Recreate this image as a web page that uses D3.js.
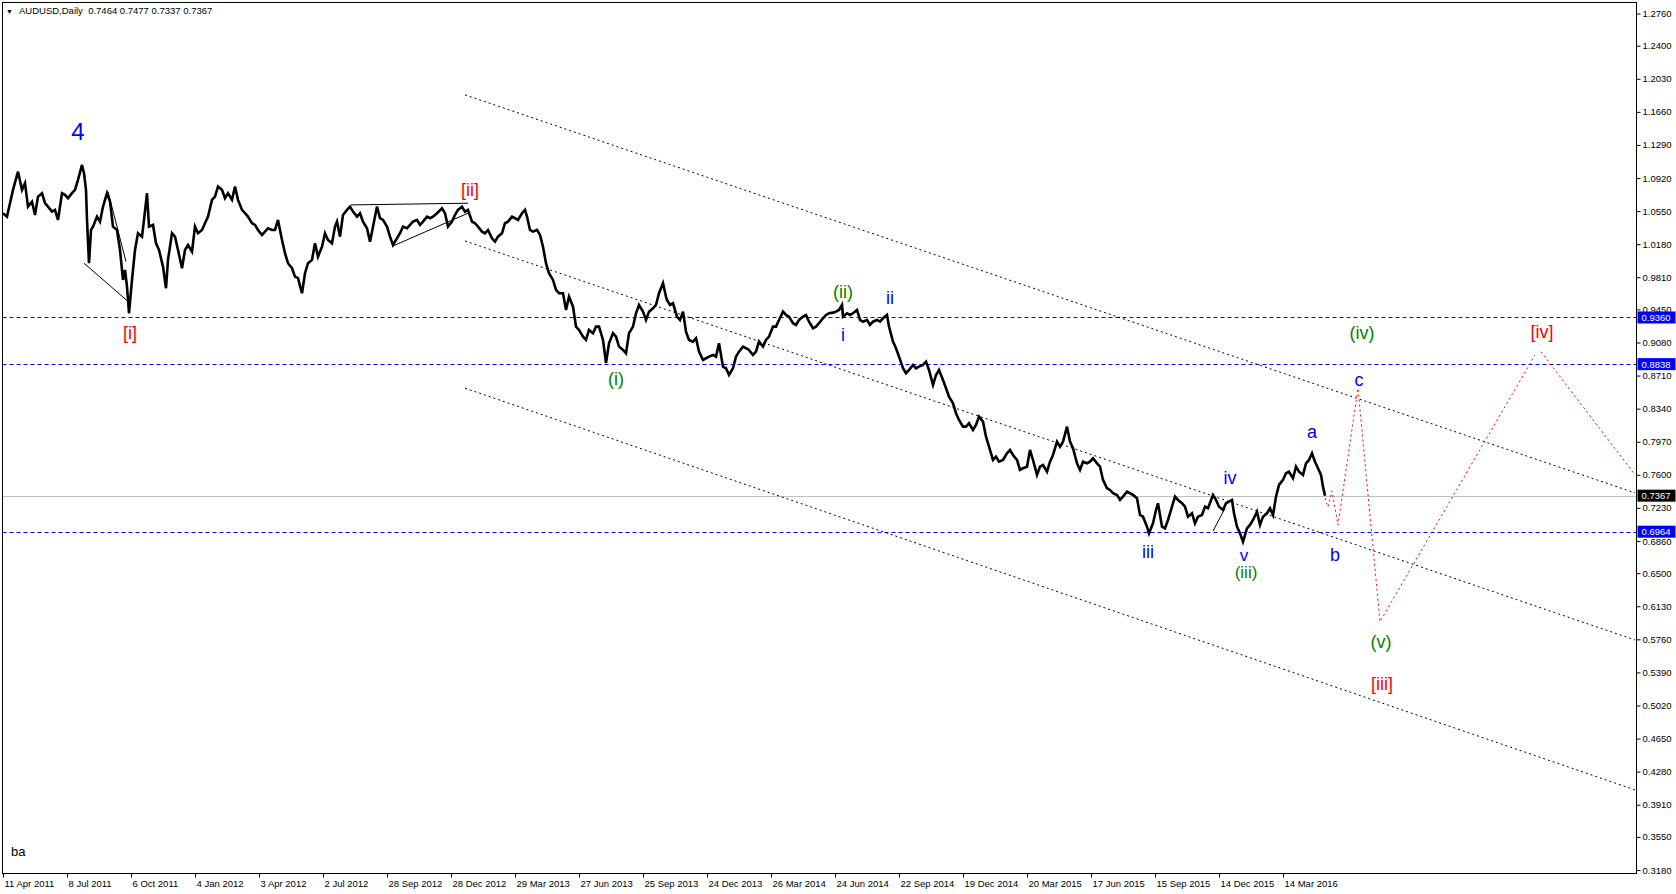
<!DOCTYPE html>
<html>
<head>
<meta charset="utf-8">
<script src="https://cdn.jsdelivr.net/npm/d3@7/dist/d3.min.js"></script>
<style>
  html, body { margin: 0; padding: 0; background: #fff; }
  svg { display: block; }
  text { font-family: "Liberation Sans", Arial, sans-serif; }
</style>
</head>
<body>
<svg id="chart" width="1676" height="894"></svg>
<script>
// ---------------- DATA ----------------
const symbolTitle = "AUDUSD,Daily  0.7464 0.7477 0.7337 0.7367";

// bar index (trading days since 11 Apr 2011)
const barIdx = [
  0,4,7,10,15,19,22,25,29,32,35,39,42,45,49,52,55,59,62,65,69,72,75,79,81,83,84,86,88,90,94,97,100,104,107,110,114,117,120,122,124,126,129,132,135,139,141,144,146,150,153,156,160,163,165,169,172,175,179,182,185,189,192,195,199,202,205,209,212,215,219,222,225,229,232,235,239,242,245,249,252,255,259,262,265,269,272,275,279,282,285,289,292,295,299,302,305,309,312,315,319,322,325,329,332,334,337,
  340,344,347,350,354,357,360,364,367,370,374,377,380,384,387,390,394,397,400,404,407,410,414,417,420,424,427,430,434,439,442,445,449,452,455,459,462,465,469,472,475,479,482,485,489,492,495,499,502,505,509,512,515,519,522,524,527,530,534,537,540,543,546,550,553,556,560,563,566,570,573,576,580,583,586,590,593,596,600,603,606,610,613,616,620,623,626,630,633,636,640,643,646,650,653,656,660,663,
  664,667,670,674,677,680,683,686,690,693,696,700,703,706,710,713,716,720,723,726,730,733,736,740,743,746,750,753,756,760,763,766,770,773,776,780,783,786,790,793,796,800,803,806,810,813,816,820,823,826,830,833,836,839,840,844,847,850,854,857,860,864,867,870,874,877,880,884,886,890,893,896,900,903,906,910,913,916,920,923,926,930,933,936,940,943,946,950,953,956,960,963,966,970,973,976,980,983,986,990,993,996,
  1000,1004,1007,1010,1014,1017,1020,1024,1027,1030,1034,1037,1040,1044,1047,1050,1054,1057,1060,1064,1067,1070,1074,1077,1080,1084,1087,1090,1094,1097,1100,1104,1107,1110,1114,1117,1120,1124,1127,1130,1134,1137,1140,1144,1146,1150,1153,1155,1159,1162,1165,1169,1172,1175,1179,1182,1185,1189,1192,1195,1199,1202,1205,1210,1213,1216,1220,1223,1226,1229,1231,1234,1237,1240,1244,1247,1250,1254,1257,1260,1264,1267,1270,1273,1276,1280,1283,1286,1290,1293,1296,1300,1303,1306,1309,1312,1315,1318,1320,1322
];
const closes = [
  1.0526,1.0488,1.0638,1.0787,1.0991,1.0787,1.0862,1.0600,1.0656,1.0507,1.0712,1.0750,1.0638,1.0600,1.0544,1.0563,1.0451,1.0750,1.0731,1.0694,1.0750,1.0787,1.0899,1.1066,1.0973,1.0787,1.0451,0.9967,1.0339,1.0376,1.0488,1.0432,1.0600,1.0750,1.0656,1.0376,1.0339,1.0115,0.9780,0.9892,0.9705,0.9407,0.9780,1.0115,1.0302,1.0264,1.0451,1.0750,1.0376,1.0395,1.0190,1.0115,0.9929,0.9687,1.0004,1.0302,1.0264,1.0115,0.9911,1.0115,1.0171,1.0096,1.0376,1.0302,1.0339,1.0414,1.0488,1.0675,1.0712,1.0824,1.0787,1.0694,1.0750,1.0675,1.0824,1.0675,1.0563,1.0526,1.0488,1.0414,1.0395,1.0339,1.0283,1.0320,1.0358,1.0339,1.0339,1.0451,1.0227,1.0079,0.9967,0.9911,0.9817,0.9799,0.9631,0.9855,0.9967,1.0004,1.0190,1.0041,1.0152,1.0302,1.0227,1.0190,1.0376,1.0432,1.0264,
  1.0507,1.0563,1.0600,1.0544,1.0488,1.0526,1.0432,1.0358,1.0208,1.0376,1.0600,1.0470,1.0451,1.0376,1.0264,1.0171,1.0246,1.0302,1.0376,1.0358,1.0395,1.0432,1.0451,1.0395,1.0432,1.0488,1.0470,1.0488,1.0526,1.0582,1.0526,1.0376,1.0432,1.0507,1.0563,1.0600,1.0544,1.0563,1.0432,1.0414,1.0376,1.0320,1.0302,1.0339,1.0246,1.0208,1.0264,1.0302,1.0414,1.0432,1.0488,1.0470,1.0451,1.0526,1.0563,1.0488,1.0339,1.0320,1.0339,1.0283,1.0152,0.9967,0.9855,0.9780,0.9668,0.9631,0.9631,0.9444,0.9593,0.9481,0.9258,0.9221,0.9146,0.9109,0.9221,0.9184,0.9258,0.9258,0.9109,0.8851,0.9072,0.9184,0.9146,0.9034,0.8997,0.8960,0.9184,0.9258,0.9407,0.9500,0.9425,0.9332,0.9425,0.9463,0.9500,0.9631,0.9743,0.9593,
  0.9556,0.9500,0.9519,0.9369,0.9332,0.9425,0.9202,0.9109,0.9090,0.9128,0.8978,0.8885,0.8904,0.8922,0.8941,0.8922,0.9072,0.8810,0.8792,0.8717,0.8792,0.8922,0.8978,0.9034,0.9016,0.8997,0.8941,0.8978,0.9090,0.9034,0.9109,0.9146,0.9258,0.9258,0.9332,0.9425,0.9388,0.9369,0.9296,0.9277,0.9332,0.9369,0.9388,0.9313,0.9240,0.9258,0.9296,0.9351,0.9388,0.9407,0.9414,0.9425,0.9444,0.9500,0.9369,0.9407,0.9388,0.9407,0.9444,0.9332,0.9313,0.9332,0.9277,0.9313,0.9332,0.9313,0.9351,0.9388,0.9258,0.9090,0.9016,0.8922,0.8792,0.8736,0.8773,0.8829,0.8792,0.8810,0.8829,0.8866,0.8773,0.8605,0.8717,0.8773,0.8661,0.8568,0.8474,0.8401,0.8289,0.8214,0.8139,0.8139,0.8177,0.8102,0.8158,0.8251,0.8195,0.8027,0.7915,0.7766,0.7803,0.7747,
  0.7766,0.7841,0.7878,0.7822,0.7766,0.7655,0.7673,0.7691,0.7878,0.7766,0.7599,0.7691,0.7710,0.7635,0.7747,0.7822,0.7971,0.7915,0.7971,0.8139,0.7971,0.7897,0.7729,0.7655,0.7747,0.7729,0.7747,0.7785,0.7729,0.7691,0.7543,0.7450,0.7431,0.7394,0.7375,0.7319,0.7356,0.7412,0.7394,0.7375,0.7338,0.7151,0.7132,0.7020,0.6946,0.7058,0.7207,0.7282,0.7020,0.7002,0.7095,0.7244,0.7356,0.7319,0.7282,0.7244,0.7132,0.7170,0.7058,0.7132,0.7151,0.7244,0.7226,0.7375,0.7319,0.7244,0.7207,0.7282,0.7300,0.7319,0.7170,0.7020,0.6946,0.6852,0.7002,0.7039,0.7095,0.7188,0.7039,0.7132,0.7170,0.7226,0.7151,0.7356,0.7487,0.7543,0.7618,0.7635,0.7562,0.7691,0.7635,0.7599,0.7729,0.7766,0.7841,0.7747,0.7673,0.7599,0.7468,0.7367
];

// time-axis labels (one every 64 bars)
const dateLabels = ["11 Apr 2011","8 Jul 2011","6 Oct 2011","4 Jan 2012","3 Apr 2012","2 Jul 2012","28 Sep 2012","28 Dec 2012","29 Mar 2013","27 Jun 2013","25 Sep 2013","24 Dec 2013","26 Mar 2014","24 Jun 2014","22 Sep 2014","19 Dec 2014","20 Mar 2015","17 Jun 2015","15 Sep 2015","14 Dec 2015","14 Mar 2016"];
const barsPerLabel = 64;

// price axis ticks
const priceTicks = [1.2760,1.2400,1.2030,1.1660,1.1290,1.0920,1.0550,1.0180,0.9810,0.9450,0.9080,0.8710,0.8340,0.7970,0.7600,0.7230,0.6860,0.6500,0.6130,0.5760,0.5390,0.5020,0.4650,0.4280,0.3910,0.3550,0.3180];

// horizontal levels
const levels = [0.9360, 0.8838, 0.6964];
const bidPrice = 0.7367;

// channel trendlines [bar1, price1, bar2, price2]
const channelLines = [
  [462, 1.1850, 1632, 0.7398],
  [462, 1.0216, 1632, 0.5753],
  [462, 0.8569, 1632, 0.4076]
];
// thin pattern trendlines
const patternLines = [
  [81, 0.9967, 126, 0.9530],
  [105, 1.0768, 123, 0.9985],
  [348, 1.0619, 465, 1.0638],
  [390, 1.0160, 465, 1.0526],
  [1210, 0.6972, 1222, 0.7226]
];
// projected path (red dotted)
const projBars1 = [1322, 1325, 1329, 1335, 1355, 1377, 1532];
const projPrices1 = [0.7341, 0.7241, 0.7420, 0.7039, 0.8568, 0.5958, 0.8941];
const projBars2 = [1538, 1632];
const projPrices2 = [0.8978, 0.7599];

// wave labels: [text, bar, price, colour-key, size]
const waveLabels = [
  ["4", 75, 1.1440, "blue", 24],
  ["[i]", 127, 0.9190, "red", 18],
  ["[ii]", 467, 1.0786, "red", 18],
  ["(i)", 613, 0.8680, "green", 18],
  ["(ii)", 840, 0.9648, "green", 18],
  ["ii", 887, 0.9586, "blue", 18],
  ["i", 840, 0.9164, "blue", 18],
  ["iii", 1145, 0.6740, "blue", 18],
  ["iv", 1227, 0.7572, "blue", 18],
  ["v", 1241, 0.6700, "blue", 17],
  ["(iii)", 1243, 0.6518, "green", 17],
  ["a", 1309, 0.8082, "blue", 18],
  ["b", 1332, 0.6703, "blue", 18],
  ["c", 1356, 0.8661, "blue", 18],
  ["(iv)", 1359, 0.9190, "green", 18],
  ["(v)", 1378, 0.5734, "green", 18],
  ["[iii]", 1379, 0.5260, "red", 18],
  ["[iv]", 1539, 0.9201, "red", 18]
];
const colours = { blue: "#0000ff", red: "#ff0000", green: "#008000" };

// ---------------- DRAW ----------------
const W = 1676, H = 894;
const plotLeft = 2.5, plotRight = 1636.5, plotTop = 2.5, plotBottom = 873.5;
const svg = d3.select("#chart");

const x = d3.scaleLinear().domain([0, 1633]).range([3, 1636]);
const y = d3.scaleLinear().domain([0.318, 1.276]).range([870, 13.5]);

svg.append("rect").attr("x", 0).attr("y", 0).attr("width", W).attr("height", H).attr("fill", "#fff");

svg.append("clipPath").attr("id", "plotclip")
  .append("rect").attr("x", plotLeft).attr("y", plotTop)
  .attr("width", plotRight - plotLeft).attr("height", plotBottom - plotTop);

const plot = svg.append("g").attr("clip-path", "url(#plotclip)");

// bid line
plot.append("line")
  .attr("x1", plotLeft).attr("x2", plotRight)
  .attr("y1", Math.round(y(bidPrice)) + 0.5).attr("y2", Math.round(y(bidPrice)) + 0.5)
  .attr("stroke", "#c0c0c0").attr("stroke-width", 1);

// horizontal levels
plot.selectAll(".lvl").data(levels).enter().append("line")
  .attr("x1", plotLeft).attr("x2", plotRight)
  .attr("y1", d => Math.round(y(d)) + 0.5).attr("y2", d => Math.round(y(d)) + 0.5)
  .attr("stroke", "#0000ff").attr("stroke-width", 1).attr("stroke-dasharray", "4,3");

// channels
plot.selectAll(".ch").data(channelLines).enter().append("line")
  .attr("x1", d => x(d[0])).attr("y1", d => y(d[1]))
  .attr("x2", d => x(d[2])).attr("y2", d => y(d[3]))
  .attr("stroke", "#000").attr("stroke-width", 1).attr("stroke-dasharray", "2,3");

// pattern lines
plot.selectAll(".pl").data(patternLines).enter().append("line")
  .attr("x1", d => x(d[0])).attr("y1", d => y(d[1]))
  .attr("x2", d => x(d[2])).attr("y2", d => y(d[3]))
  .attr("stroke", "#000").attr("stroke-width", 1);

// price line
const priceData = barIdx.map((b, i) => [b, closes[i]]);
const line = d3.line().x(d => x(d[0])).y(d => y(d[1]));
plot.append("path").datum(priceData)
  .attr("d", line).attr("fill", "none")
  .attr("stroke", "#000").attr("stroke-width", 2.6).attr("stroke-linejoin", "miter");

// projection
const proj1 = projBars1.map((b, i) => [b, projPrices1[i]]);
const proj2 = projBars2.map((b, i) => [b, projPrices2[i]]);
[proj1, proj2].forEach(p => {
  plot.append("path").datum(p).attr("d", line).attr("fill", "none")
    .attr("stroke", "#ff0000").attr("stroke-width", 1).attr("stroke-dasharray", "2,3");
});

// wave labels
svg.selectAll(".wl").data(waveLabels).enter().append("text")
  .attr("x", d => x(d[1])).attr("y", d => y(d[2]))
  .attr("dy", "0.35em")
  .attr("text-anchor", "middle")
  .attr("font-size", d => d[4] + "px")
  .attr("fill", d => colours[d[3]])
  .text(d => d[0]);

// "ba" mark
svg.append("text").attr("x", 11).attr("y", 856).attr("font-size", "13px").attr("fill", "#000").text("ba");

// frame
svg.append("rect").attr("x", plotLeft).attr("y", plotTop)
  .attr("width", plotRight - plotLeft).attr("height", plotBottom - plotTop)
  .attr("fill", "none").attr("stroke", "#000").attr("stroke-width", 1);

// right price axis
const yAxis = d3.axisRight(y).tickValues(priceTicks).tickSize(4).tickPadding(2)
  .tickFormat(d3.format(".4f"));
const gy = svg.append("g").attr("transform", `translate(${plotRight},0)`).call(yAxis);
gy.select(".domain").remove();
gy.selectAll("text").attr("font-size", "9.5px").attr("fill", "#000")
  .attr("font-family", "'Liberation Sans', Arial, sans-serif");
gy.selectAll("line").attr("stroke", "#000");

// level boxes
const boxes = levels.map(v => ({ v, bg: "#0000ff" })).concat([{ v: bidPrice, bg: "#000" }]);
const bx = svg.selectAll(".box").data(boxes).enter().append("g");
bx.append("rect").attr("x", plotRight + 1).attr("y", d => y(d.v) - 6)
  .attr("width", 38).attr("height", 12).attr("fill", d => d.bg);
bx.append("text").attr("x", plotRight + 5).attr("y", d => y(d.v) + 3.5)
  .attr("font-size", "9.5px").attr("fill", "#fff").text(d => d3.format(".4f")(d.v));

// bottom time axis
const tickBars = dateLabels.map((d, i) => i * barsPerLabel);
const xAxis = d3.axisBottom(x).tickValues(tickBars).tickSize(4).tickPadding(3)
  .tickFormat((d, i) => dateLabels[i]);
const gx = svg.append("g").attr("transform", `translate(0,${plotBottom})`).call(xAxis);
gx.select(".domain").remove();
gx.selectAll("line").attr("stroke", "#000");
gx.selectAll("text").attr("font-size", "9.5px").attr("fill", "#000")
  .attr("text-anchor", "start").attr("dx", "1")
  .attr("font-family", "'Liberation Sans', Arial, sans-serif");

// title
svg.append("rect").attr("x", 3).attr("y", 3).attr("width", 215).attr("height", 15).attr("fill", "#fff");
svg.append("text").attr("x", 6).attr("y", 14).attr("font-size", "7px").attr("fill", "#000").text("▼");
svg.append("text").attr("x", 19).attr("y", 14).attr("font-size", "9.5px").attr("fill", "#000")
  .attr("xml:space", "preserve").style("white-space", "pre").text(symbolTitle);
</script>
</body>
</html>
